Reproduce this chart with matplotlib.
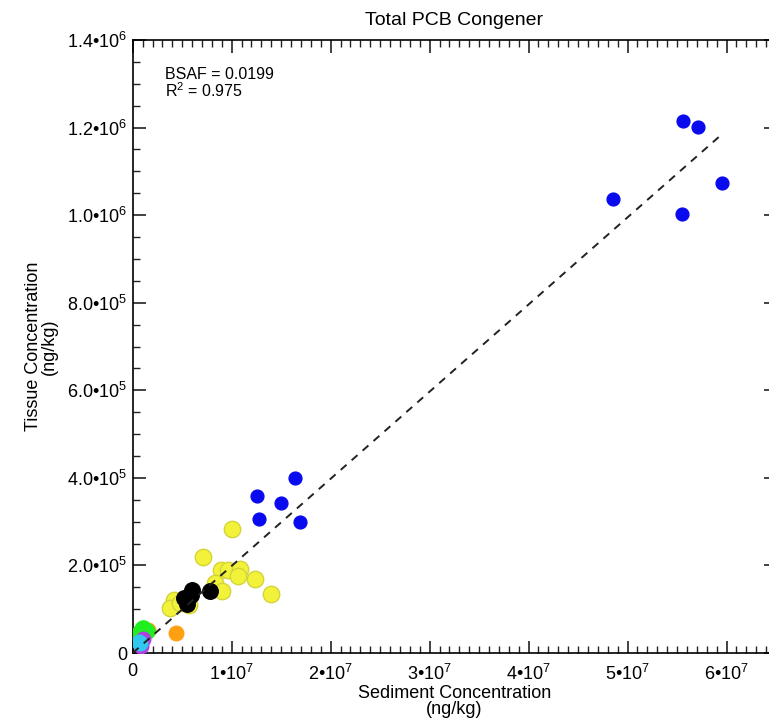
import numpy as np
import matplotlib
matplotlib.use("Agg")
import matplotlib.pyplot as plt
from matplotlib.ticker import MultipleLocator, FixedLocator, FixedFormatter

plt.rcParams['font.family'] = ['Liberation Sans', 'DejaVu Sans']
plt.rcParams['mathtext.fontset'] = 'custom'
plt.rcParams['mathtext.rm'] = 'Liberation Sans'
plt.rcParams['mathtext.default'] = 'regular'

# data (sediment ng/kg, tissue ng/kg)
blue_x = [5.559e7, 5.710e7, 5.952e7, 4.852e7, 5.549e7,
          1.639e7, 1.256e7, 1.498e7, 1.276e7, 1.690e7]
blue_y = [1.215e6, 1.201e6, 1.073e6, 1.036e6, 1.002e6,
          4.00e5, 3.58e5, 3.42e5, 3.06e5, 2.99e5]

yellow_x = [7.1e6, 8.9e6, 9.6e6, 1.084e7, 1.06e7, 1.235e7, 8.3e6,
            9.06e6, 1.40e7, 4.17e6, 3.77e6, 5.69e6, 4.8e6, 1.002e7]
yellow_y = [2.20e5, 1.89e5, 1.89e5, 1.93e5, 1.76e5, 1.69e5, 1.59e5,
            1.42e5, 1.35e5, 1.21e5, 1.02e5, 1.10e5, 1.14e5, 2.84e5]

black_x = [7.81e6, 6.03e6, 5.15e6, 5.52e6, 5.9e6]
black_y = [1.42e5, 1.45e5, 1.25e5, 1.13e5, 1.33e5]

orange_x = [4.37e6, 1.55e6]
orange_y = [4.6e4, 5.2e4]

red_x = [2.3e5, 3.0e5]
red_y = [3.0e4, 4.2e4]

green_x = [1.04e6, 7.4e5, 1.4e6, 9.0e5]
green_y = [5.6e4, 4.9e4, 5.1e4, 5.4e4]

purple_x = [8.8e5, 1.0e6]
purple_y = [1.6e4, 3.2e4]

cyan_x = [7.4e5, 6.0e5]
cyan_y = [2.2e4, 2.6e4]

bsaf = 0.0199
r2 = 0.975
line_x = [0, 5.94e7]

x_ticks = [0, 1e7, 2e7, 3e7, 4e7, 5e7, 6e7]
x_labels = ["0", "1•10$^{7}$", "2•10$^{7}$", "3•10$^{7}$",
            "4•10$^{7}$", "5•10$^{7}$", "6•10$^{7}$"]
y_ticks = [0, 2e5, 4e5, 6e5, 8e5, 1e6, 1.2e6, 1.4e6]
y_labels = ["0", "2.0•10$^{5}$", "4.0•10$^{5}$", "6.0•10$^{5}$",
            "8.0•10$^{5}$", "1.0•10$^{6}$", "1.2•10$^{6}$", "1.4•10$^{6}$"]

fig = plt.figure(figsize=(7.69, 7.21), dpi=100)
ax = fig.add_axes([0.1726, 0.0943, 0.8365, 0.8502])

ax.scatter(blue_x, blue_y, s=85, color='#0a0aee', edgecolors='#0a0aee', zorder=3)
ax.scatter(yellow_x, yellow_y, s=140, color='#f2f23a', edgecolors='#d4d43a',
           linewidths=1, zorder=3)
ax.scatter(black_x, black_y, s=125, color='black', zorder=4)
ax.scatter(orange_x, orange_y, s=110, color='#ffa010', zorder=3)
ax.scatter(red_x, red_y, s=110, color='#d04020', zorder=3)
ax.scatter(green_x, green_y, s=120, color='#20ee20', zorder=4)
ax.scatter(purple_x, purple_y, s=110, color='#b040e0', zorder=4)
ax.scatter(cyan_x, cyan_y, s=110, color='#30c8f0', zorder=5)

ax.plot(line_x, [bsaf * v for v in line_x], color='#222222', lw=1.4,
        dashes=(4, 3.5), zorder=6)

ax.set_xlim(0, 6.5e7)
ax.set_ylim(0, 1.4e6)
ax.xaxis.set_major_locator(FixedLocator(x_ticks))
ax.xaxis.set_major_formatter(FixedFormatter(x_labels))
ax.xaxis.set_minor_locator(MultipleLocator(1e6))
ax.yaxis.set_major_locator(FixedLocator(y_ticks))
ax.yaxis.set_major_formatter(FixedFormatter(y_labels))
ax.yaxis.set_minor_locator(MultipleLocator(5e4))
ax.tick_params(which='both', direction='in', top=True, right=True,
               labelsize=13, color='#222222')
ax.tick_params(which='major', length=9, width=1.2)
ax.tick_params(which='minor', length=5, width=1)
ax.tick_params(axis='x', which='major', pad=7.5)
ax.tick_params(axis='y', which='major', pad=4)
for sp in ax.spines.values():
    sp.set_linewidth(1.2)

ax.set_title("Total PCB Congener", fontsize=14, pad=10.5)
ax.set_xlabel("Sediment Concentration\n(ng/kg)", fontsize=13, linespacing=0.95,
              labelpad=1)
ax.set_ylabel("Tissue Concentration\n(ng/kg)", fontsize=13, linespacing=0.9,
              labelpad=7)
ax.text(0.05, 0.956, "BSAF = %.4f\nR$^2$ = %.3f" % (bsaf, r2), transform=ax.transAxes,
        fontsize=11.5, va='top', ha='left', linespacing=0.95)

fig.savefig("out.png", dpi=100)
